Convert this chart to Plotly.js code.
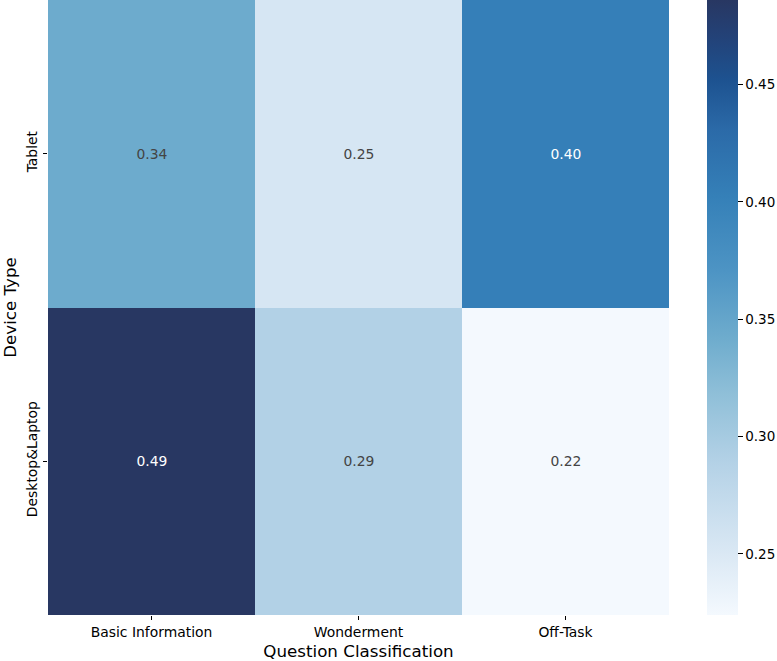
<!DOCTYPE html>
<html>
<head>
<meta charset="utf-8">
<script src="https://cdn.plot.ly/plotly-3.0.1.min.js"></script>
<style>
  html, body { margin: 0; padding: 0; background: #fff; }
  #chart { width: 777px; height: 661px; }
</style>
</head>
<body>
<div id="chart"></div>
<script>
// categories
const questionTypes = ['Basic Information', 'Wonderment', 'Off-Task'];
const deviceTypes = ['Desktop&Laptop', 'Tablet'];

// proportions per device (rows bottom -> top)
const desktopValues = [0.486, 0.290, 0.224];
const tabletValues = [0.343, 0.254, 0.403];

const colorbarTicks = [0.25, 0.30, 0.35, 0.40, 0.45];

const z = [desktopValues, tabletValues];
const zMin = Math.min(...desktopValues, ...tabletValues);
const zMax = Math.max(...desktopValues, ...tabletValues);

// Blues-like ramp ending in a dark navy
const blues = [
  [0.0, '#f4f9fe'],
  [0.10, '#dae8f4'],
  [0.25, '#b3d1e6'],
  [0.36, '#8fbfd8'],
  [0.45, '#6eaccd'],
  [0.56, '#4d94c4'],
  [0.68, '#3580b8'],
  [0.79, '#2b6aa8'],
  [0.87, '#1d5290'],
  [0.94, '#234278'],
  [1.0, '#283762']
];

const font = 'DejaVu Sans, sans-serif';

const trace = {
  type: 'heatmap',
  x: questionTypes,
  y: deviceTypes,
  z: z,
  zmin: zMin,
  zmax: zMax,
  colorscale: blues,
  texttemplate: '%{z:.2f}',
  textfont: {family: font, size: 13.9},
  hoverinfo: 'skip',
  colorbar: {
    x: 1.0612,
    xanchor: 'left',
    xpad: 0,
    y: 0,
    yanchor: 'bottom',
    len: 1,
    ypad: 0,
    thickness: 31,
    outlinewidth: 0,
    tickvals: colorbarTicks,
    ticktext: colorbarTicks.map((v) => v.toFixed(2)),
    ticks: 'outside',
    ticklen: 5,
    tickwidth: 1,
    tickcolor: '#000',
    tickfont: {family: font, size: 13.5, color: '#000'}
  }
};

const layout = {
  width: 777,
  height: 661,
  margin: {l: 48, r: 108, t: 0, b: 46, autoexpand: false},
  paper_bgcolor: '#fff',
  plot_bgcolor: '#fff',
  xaxis: {
    title: {text: 'Question Classification', font: {family: font, size: 16.7, color: '#000'}, standoff: 7},
    ticks: 'outside',
    ticklen: 4,
    tickcolor: '#000',
    tickfont: {family: font, size: 13.9, color: '#000'},
    showgrid: false,
    zeroline: false,
    showline: false
  },
  yaxis: {
    title: {text: 'Device Type', font: {family: font, size: 16.7, color: '#000'}, standoff: 5},
    ticks: 'outside',
    ticklen: 4,
    tickcolor: '#000',
    tickangle: -90,
    tickfont: {family: font, size: 13.9, color: '#000'},
    showgrid: false,
    zeroline: false,
    showline: false
  }
};

Plotly.newPlot('chart', [trace], layout, {displayModeBar: false, staticPlot: true});
</script>
</body>
</html>
